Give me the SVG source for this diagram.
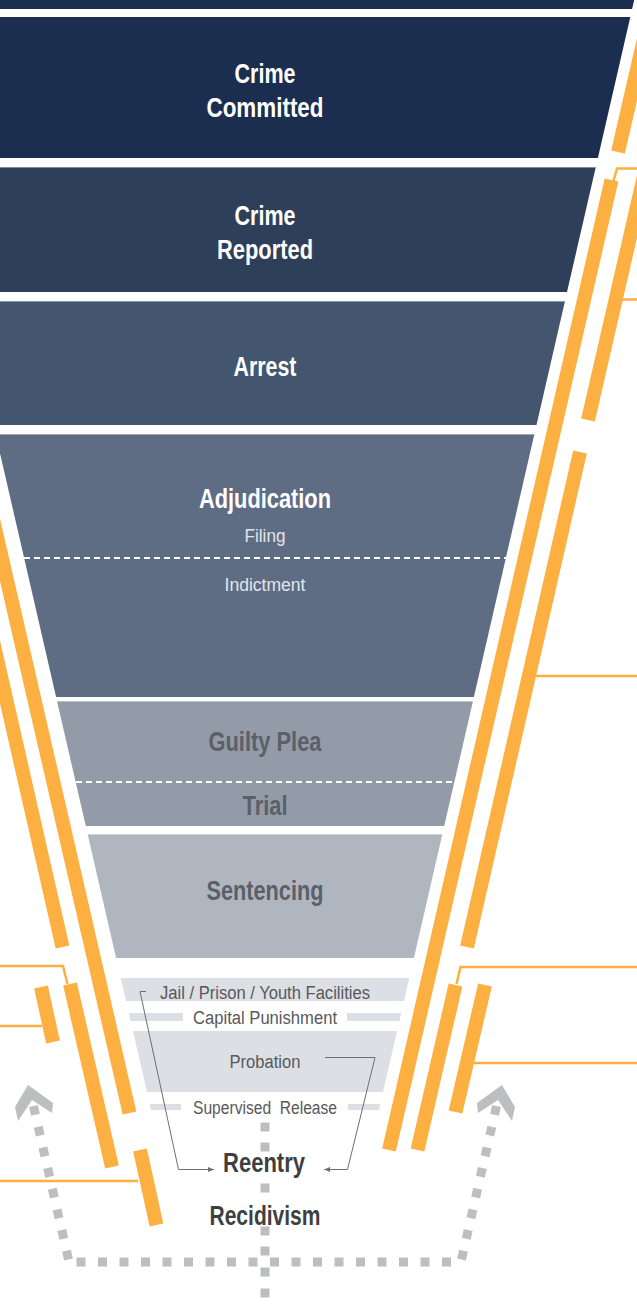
<svg xmlns="http://www.w3.org/2000/svg" width="637" height="1307" viewBox="0 0 637 1307">
<style>
.t{font-family:"Liberation Sans",Arial,sans-serif;text-anchor:middle}
.big{font-size:27px;font-weight:bold}
.sm{font-size:18px}
.w{fill:#ffffff}
.lt{fill:#e1e5eb}
.gd{fill:#5a6068}
.gs{fill:#58595b}
.dk{fill:#3f3f41}
.ob{stroke:#fbb041;stroke-width:14;fill:none;stroke-linecap:butt}
.ol{stroke:#fbb041;stroke-width:2.5;fill:none}
.dash{stroke:#ffffff;stroke-width:2;stroke-dasharray:6 4;fill:none}
.dot{stroke:#bcbec0;stroke-width:9;fill:none;stroke-dasharray:9 12.2}
.sq{fill:#bcbec0}
.ga{stroke:#6d6e71;stroke-width:1;fill:none}
.hl{stroke:#ffffff;stroke-opacity:0.4;stroke-width:1}
</style>
<defs>
<marker id="ah" viewBox="0 0 6 6" refX="6" refY="3" markerWidth="6" markerHeight="6" markerUnits="userSpaceOnUse" orient="auto">
<path d="M0,0.5 L6,3 L0,5.5 Z" fill="#6d6e71"/>
</marker>
</defs>

<g id="band-top"><polygon points="0,0 634.2,0 632.1,9 0,9" fill="#1b2e4f"/></g>

<g id="crime-committed">
<polygon points="0,17 630.3,17 597.9,158 0,158" fill="#1b2e4f"/>
<text class="t big w" x="265" y="83" textLength="61" lengthAdjust="spacingAndGlyphs">Crime</text>
<text class="t big w" x="265" y="117" textLength="117" lengthAdjust="spacingAndGlyphs">Committed</text>
</g>

<g id="crime-reported">
<polygon points="0,167 595.8,167 567,292 0,292" fill="#2e4059"/>
<line class="hl" x1="0" y1="167.5" x2="595.7" y2="167.5"/>
<text class="t big w" x="265" y="225" textLength="61" lengthAdjust="spacingAndGlyphs">Crime</text>
<text class="t big w" x="265" y="259" textLength="96" lengthAdjust="spacingAndGlyphs">Reported</text>
</g>

<g id="arrest">
<polygon points="0,301 565,301 536.5,425 0,425" fill="#43556f"/>
<line class="hl" x1="0" y1="301.5" x2="564.9" y2="301.5"/>
<text class="t big w" x="265" y="376" textLength="63" lengthAdjust="spacingAndGlyphs">Arrest</text>
</g>

<g id="adjudication">
<polygon points="-4.4,434 534.4,434 473.9,697 56.1,697" fill="#5e6d84"/>
<line class="hl" x1="0" y1="434.5" x2="534.3" y2="434.5"/>
<text class="t big w" x="265" y="508" textLength="132" lengthAdjust="spacingAndGlyphs">Adjudication</text>
<text class="t sm lt" x="265" y="542" textLength="41" lengthAdjust="spacingAndGlyphs">Filing</text>
<line class="dash" x1="24" y1="558" x2="506" y2="558"/>
<text class="t sm lt" x="265" y="591" textLength="81" lengthAdjust="spacingAndGlyphs">Indictment</text>
</g>

<g id="plea-trial">
<polygon points="57,701 473,701 444.2,826 85.8,826" fill="#939ba8"/>
<line class="hl" x1="57.1" y1="701.5" x2="472.9" y2="701.5"/>
<text class="t big gd" x="265" y="751" textLength="113" lengthAdjust="spacingAndGlyphs">Guilty Plea</text>
<line class="dash" x1="76" y1="782" x2="454" y2="782"/>
<text class="t big gd" x="265" y="815" textLength="45" lengthAdjust="spacingAndGlyphs">Trial</text>
</g>

<g id="sentencing">
<polygon points="87.6,834 442.4,834 413.9,958 116.1,958" fill="#b0b6bf"/>
<line class="hl" x1="87.7" y1="834.5" x2="442.3" y2="834.5"/>
<text class="t big gd" x="265" y="900" textLength="117" lengthAdjust="spacingAndGlyphs">Sentencing</text>
</g>

<g id="jail">
<polygon points="120.7,978 409.3,978 404,1001 126,1001" fill="#dcdfe3"/>
<text class="t sm gs" x="265" y="999" textLength="210" lengthAdjust="spacingAndGlyphs">Jail / Prison / Youth Facilities</text>
</g>

<g id="capital">
<polygon points="128.8,1013 183,1013 183,1021 130.6,1021" fill="#dcdfe3"/>
<polygon points="347,1013 401.2,1013 399.4,1021 347,1021" fill="#dcdfe3"/>
<text class="t sm gs" x="265" y="1024" textLength="144" lengthAdjust="spacingAndGlyphs">Capital Punishment</text>
</g>

<g id="probation">
<polygon points="132.9,1031 397.1,1031 383,1092 147,1092" fill="#dcdfe3"/>
<text class="t sm gs" x="265" y="1068" textLength="71" lengthAdjust="spacingAndGlyphs">Probation</text>
</g>

<g id="supervised">
<polygon points="149.7,1104 181,1104 181,1110 151.1,1110" fill="#dcdfe3"/>
<polygon points="348,1104 380.3,1104 378.9,1110 348,1110" fill="#dcdfe3"/>
<text class="t sm gs" x="265" y="1114" textLength="144" lengthAdjust="spacingAndGlyphs" xml:space="preserve">Supervised  Release</text>
</g>

<g id="reentry">
<text class="t big dk" x="264" y="1172" textLength="82" lengthAdjust="spacingAndGlyphs">Reentry</text>
</g>

<g id="recidivism">
<text class="t big dk" x="265" y="1225" textLength="111" lengthAdjust="spacingAndGlyphs">Recidivism</text>
</g>

<g id="connectors">
<line class="ob" x1="653" y1="0" x2="618" y2="152"/>
<line class="ob" x1="611.5" y1="180" x2="389" y2="1150"/>
<line class="ob" x1="650" y1="150" x2="588" y2="420"/>
<line class="ob" x1="580" y1="452" x2="467" y2="947"/>
<line class="ob" x1="455.5" y1="985" x2="417.5" y2="1150"/>
<line class="ob" x1="485" y1="985" x2="455.5" y2="1112"/>
<line class="ob" x1="-23" y1="450" x2="129.5" y2="1113"/>
<line class="ob" x1="-50" y1="452" x2="62.5" y2="947"/>
<line class="ob" x1="41" y1="987" x2="53" y2="1042"/>
<line class="ob" x1="70" y1="984" x2="112" y2="1167"/>
<line class="ob" x1="140" y1="1150" x2="156.5" y2="1225"/>
<polyline class="ol" points="613.5,181 617,168.5 637,168.5"/>
<line class="ol" x1="622" y1="299.5" x2="637" y2="299.5"/>
<line class="ol" x1="535" y1="676" x2="637" y2="676"/>
<polyline class="ol" points="456.5,984 460.5,967 637,967"/>
<line class="ol" x1="474" y1="1063" x2="637" y2="1063"/>
<polyline class="ol" points="0,966 63,966 67.5,984"/>
<line class="ol" x1="0" y1="1026" x2="42" y2="1026"/>
<line class="ol" x1="0" y1="1181" x2="138" y2="1181"/>
<polyline class="ga" points="146,991.5 140,991.5 178.5,1169.5 214,1169.5" marker-end="url(#ah)"/>
<polyline class="ga" points="325,1057.5 375,1057.5 347.5,1169.5 324,1169.5" marker-end="url(#ah)"/>
<rect class="sq" x="260.5" y="1122.5" width="9" height="9"/>
<rect class="sq" x="260.5" y="1142.5" width="9" height="9"/>
<rect class="sq" x="260.5" y="1183.5" width="9" height="9"/>
<rect class="sq" x="260.5" y="1226.5" width="9" height="9"/>
<rect class="sq" x="260.5" y="1246.5" width="9" height="9"/>
<rect class="sq" x="260.5" y="1267.5" width="9" height="9"/>
<rect class="sq" x="260.5" y="1288.5" width="9" height="9"/>
<line class="dot" x1="76.5" y1="1262" x2="451.5" y2="1262" style="stroke-dasharray:9 12.5"/>
<line class="dot" x1="68.5" y1="1259.5" x2="33" y2="1104"/>
<line class="dot" x1="461.5" y1="1259.5" x2="497" y2="1104"/>
<polygon class="sq" points="28,1085 53,1103 52,1113 32,1100 18,1121 15,1107"/>
<polygon class="sq" points="502,1085 477,1103 478,1113 498,1100 512,1121 515,1107"/>
</g>
</svg>
